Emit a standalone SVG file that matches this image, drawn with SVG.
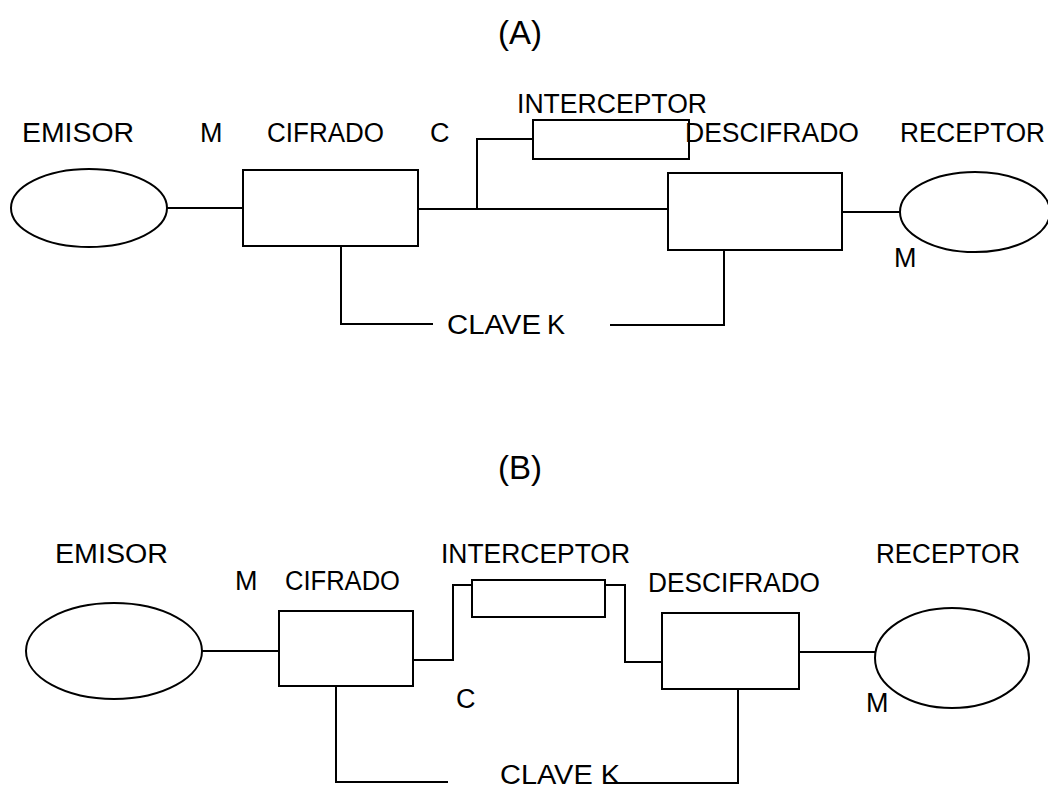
<svg xmlns="http://www.w3.org/2000/svg" width="1048" height="788" viewBox="0 0 1048 788">
<style>
.s{fill:none;stroke:#000;stroke-width:2}
.t{font-family:"Liberation Sans",Arial,sans-serif;font-size:27px;fill:#000}
.h{font-family:"Liberation Sans",Arial,sans-serif;font-size:33px;fill:#000}
</style>
<rect width="1048" height="788" fill="#fff"/>
<text class="h" x="498" y="44">(A)</text>
<text class="h" x="498" y="479">(B)</text>

<!-- Diagram A -->
<g id="a-emisor"><ellipse class="s" cx="89" cy="208" rx="78" ry="39"/><text class="t" x="22" y="142" textLength="112" lengthAdjust="spacingAndGlyphs">EMISOR</text></g>
<g id="a-cifrado"><rect class="s" x="243" y="170" width="175" height="76"/><text class="t" x="267" y="142" textLength="117" lengthAdjust="spacingAndGlyphs">CIFRADO</text></g>
<g id="a-interceptor"><rect class="s" x="533" y="120" width="156" height="39"/><text class="t" x="517" y="113" textLength="190" lengthAdjust="spacingAndGlyphs">INTERCEPTOR</text></g>
<g id="a-descifrado"><rect class="s" x="668" y="173" width="174" height="77"/><text class="t" x="685" y="142" textLength="174" lengthAdjust="spacingAndGlyphs">DESCIFRADO</text></g>
<g id="a-receptor"><ellipse class="s" cx="975" cy="212" rx="75" ry="40"/><text class="t" x="900" y="142" textLength="145" lengthAdjust="spacingAndGlyphs">RECEPTOR</text></g>
<g id="a-labels">
<text class="t" x="200" y="142">M</text>
<text class="t" x="430" y="142">C</text>
<text class="t" x="894" y="267">M</text>
<text class="t" x="447" y="334" textLength="94" lengthAdjust="spacingAndGlyphs">CLAVE</text>
<text class="t" x="547" y="334">K</text>
</g>
<g id="a-connectors">
<path class="s" d="M167 208H243"/>
<path class="s" d="M418 209H668"/>
<path class="s" d="M477 209V139H533"/>
<path class="s" d="M842 212H900"/>
<path class="s" d="M341 246V324H433"/>
<path class="s" d="M610 325H724V250"/>
</g>

<!-- Diagram B -->
<g id="b-emisor"><ellipse class="s" cx="114" cy="651" rx="88" ry="48"/><text class="t" x="55" y="563" textLength="113" lengthAdjust="spacingAndGlyphs">EMISOR</text></g>
<g id="b-cifrado"><rect class="s" x="279" y="611" width="134" height="75"/><text class="t" x="285" y="590" textLength="115" lengthAdjust="spacingAndGlyphs">CIFRADO</text></g>
<g id="b-interceptor"><rect class="s" x="472" y="580" width="133" height="37"/><text class="t" x="441" y="563" textLength="189" lengthAdjust="spacingAndGlyphs">INTERCEPTOR</text></g>
<g id="b-descifrado"><rect class="s" x="662" y="613" width="137" height="76"/><text class="t" x="648" y="592" textLength="172" lengthAdjust="spacingAndGlyphs">DESCIFRADO</text></g>
<g id="b-receptor"><ellipse class="s" cx="952" cy="658" rx="77" ry="50"/><text class="t" x="876" y="563" textLength="144" lengthAdjust="spacingAndGlyphs">RECEPTOR</text></g>
<g id="b-labels">
<text class="t" x="235" y="590">M</text>
<text class="t" x="456" y="708">C</text>
<text class="t" x="866" y="712">M</text>
<text class="t" x="500" y="784" textLength="120" lengthAdjust="spacingAndGlyphs">CLAVE K</text>
</g>
<g id="b-connectors">
<path class="s" d="M202 651H279"/>
<path class="s" d="M413 660H453V585H472"/>
<path class="s" d="M605 585H625V662H662"/>
<path class="s" d="M799 652H875"/>
<path class="s" d="M336 686V782H448"/>
<path class="s" d="M605 783H738V689"/>
</g>
</svg>
